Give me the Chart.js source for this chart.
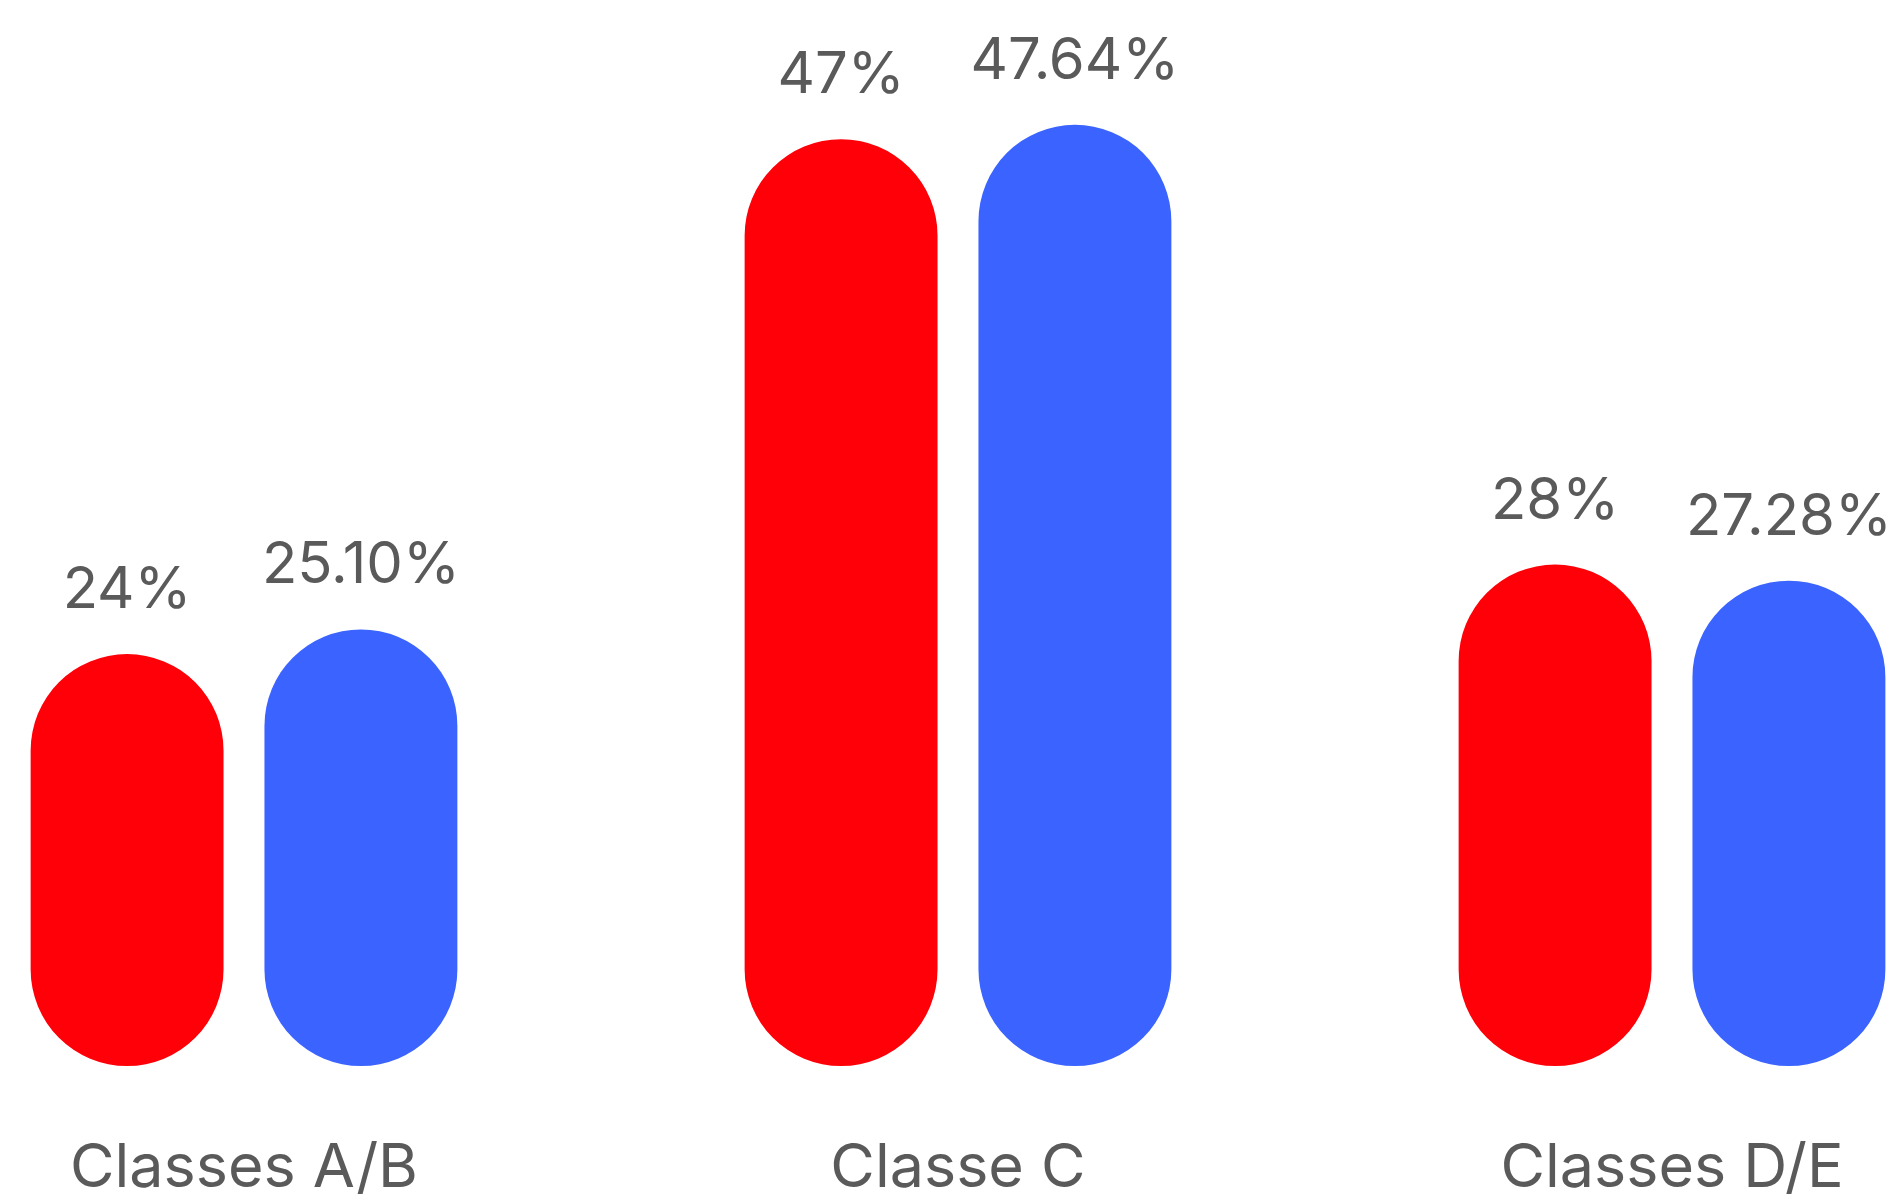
<!DOCTYPE html>
<html>
<head>
<meta charset="utf-8">
<title>Classes</title>
<script src="https://cdn.jsdelivr.net/npm/chart.js@4"></script>
<style>
  html, body { margin: 0; padding: 0; background: #fff; }
  #chart { display: block; }
</style>
</head>
<body>
<canvas id="chart" width="1900" height="1197"></canvas>
<script>
// categories and the two series shown per group
const categories = ['Classes A/B', 'Classe C', 'Classes D/E'];
const seriesRed = [24, 47, 28];
const seriesBlue = [25.10, 47.64, 27.28];
const redDecimals = 0;
const blueDecimals = 2;

// value axis range; bars grow from the floor, not from zero
const yFloor = 5.6;
const yCeil = 50;

const textColor = '#5a5a5a';

// prints each bar's value above its rounded top
const valueLabels = {
    id: 'valueLabels',
    afterDatasetsDraw(chart) {
        const ctx = chart.ctx;
        ctx.save();
        ctx.font = '400 58px Inter, "Noto Sans", sans-serif';
        ctx.fillStyle = textColor;
        ctx.textAlign = 'center';
        ctx.textBaseline = 'alphabetic';
        chart.data.datasets.forEach((ds, i) => {
            const meta = chart.getDatasetMeta(i);
            meta.data.forEach((bar, j) => {
                const txt = ds.data[j].toFixed(ds.decimals) + '%';
                ctx.fillText(txt, bar.x, bar.y - 46);
            });
        });
        ctx.restore();
    }
};

new Chart(document.getElementById('chart'), {
    type: 'bar',
    data: {
        labels: categories,
        datasets: [{
            label: 'Série 1',
            data: seriesRed,
            decimals: redDecimals,
            backgroundColor: '#ff0008'
        }, {
            label: 'Série 2',
            data: seriesBlue,
            decimals: blueDecimals,
            backgroundColor: '#3a63ff'
        }]
    },
    options: {
        responsive: false,
        animation: false,
        clip: false,
        // tall tick line box pushes the labels down; negative bottom padding keeps the plot tall
        layout: { padding: { left: 244, right: 228, top: 72, bottom: -75 } },
        datasets: {
            bar: {
                base: yFloor,
                borderRadius: 200,
                borderSkipped: false,
                categoryPercentage: 0.655,
                barPercentage: 0.825
            }
        },
        plugins: {
            legend: { display: false },
            tooltip: { enabled: false }
        },
        scales: {
            x: {
                offset: false,
                grid: { display: false, drawTicks: false },
                border: { display: false },
                ticks: {
                    padding: 11,
                    maxRotation: 0,
                    color: textColor,
                    font: { family: 'Inter, "Noto Sans", sans-serif', size: 61, lineHeight: '184px' }
                }
            },
            y: {
                display: false,
                min: yFloor,
                max: yCeil
            }
        }
    },
    plugins: [valueLabels]
});
</script>
</body>
</html>
